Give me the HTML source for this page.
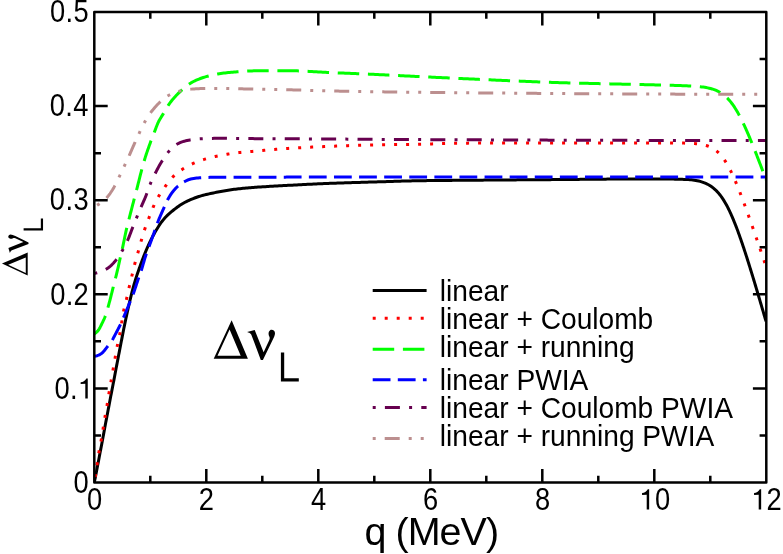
<!DOCTYPE html>
<html><head><meta charset="utf-8"><style>html,body{margin:0;padding:0;background:#fff;width:783px;height:554px;overflow:hidden}svg{display:block;will-change:transform}</style></head>
<body>
<svg width="783" height="554" viewBox="0 0 783 554">
<rect width="783" height="554" fill="#fff"/>
<defs><clipPath id="c"><rect x="94.30" y="7.00" width="672.00" height="480.50"/></clipPath></defs>
<g clip-path="url(#c)" fill="none" stroke-width="3.00" stroke-linejoin="round">
<path d="M94.30 482.50 L94.59 481.03 L94.89 479.56 L95.18 478.09 L95.47 476.61 L95.76 475.14 L96.05 473.67 L96.34 472.20 L96.62 470.73 L96.91 469.25 L97.19 467.78 L97.48 466.31 L97.76 464.84 L98.04 463.36 L98.32 461.89 L98.60 460.41 L98.88 458.94 L99.16 457.47 L99.44 455.99 L99.72 454.52 L100.00 453.05 L100.29 451.57 L100.57 450.10 L100.86 448.63 L101.14 447.16 L101.43 445.68 L101.71 444.21 L101.99 442.74 L102.27 441.26 L102.55 439.79 L102.83 438.32 L103.10 436.84 L103.37 435.37 L103.64 433.89 L103.91 432.41 L104.18 430.94 L104.46 429.46 L104.73 427.99 L105.00 426.51 L105.28 425.04 L105.55 423.57 L105.83 422.09 L106.11 420.62 L106.39 419.14 L106.67 417.67 L106.95 416.20 L107.24 414.72 L107.52 413.25 L107.80 411.78 L108.08 410.30 L108.36 408.83 L108.64 407.36 L108.92 405.88 L109.20 404.41 L109.48 402.94 L109.76 401.46 L110.04 399.99 L110.32 398.51 L110.60 397.04 L110.89 395.57 L111.17 394.10 L111.46 392.62 L111.75 391.15 L112.04 389.68 L112.32 388.21 L112.61 386.74 L112.90 385.26 L113.18 383.79 L113.46 382.32 L113.75 380.84 L114.03 379.37 L114.30 377.90 L114.58 376.42 L114.86 374.95 L115.14 373.47 L115.42 372.00 L115.70 370.53 L115.98 369.05 L116.26 367.58 L116.54 366.11 L116.82 364.63 L117.10 363.16 L117.39 361.69 L117.67 360.21 L117.95 358.74 L118.24 357.27 L118.52 355.80 L118.81 354.32 L119.09 352.85 L119.38 351.38 L119.66 349.90 L119.95 348.43 L120.23 346.96 L120.52 345.49 L120.80 344.01 L121.09 342.54 L121.38 341.07 L121.66 339.60 L121.95 338.12 L122.23 336.65 L122.52 335.18 L122.81 333.71 L123.10 332.24 L123.39 330.76 L123.68 329.29 L123.98 327.82 L124.28 326.35 L124.58 324.88 L124.88 323.41 L125.19 321.95 L125.50 320.48 L125.81 319.01 L126.13 317.54 L126.44 316.08 L126.76 314.61 L127.08 313.15 L127.41 311.68 L127.73 310.22 L128.06 308.76 L128.39 307.29 L128.72 305.83 L129.06 304.37 L129.39 302.91 L129.74 301.44 L130.08 299.98 L130.43 298.53 L130.78 297.07 L131.14 295.61 L131.49 294.15 L131.86 292.70 L132.23 291.24 L132.60 289.79 L132.98 288.34 L133.38 286.89 L133.78 285.45 L134.19 284.01 L134.61 282.57 L135.04 281.13 L135.48 279.70 L135.93 278.27 L136.39 276.84 L136.85 275.41 L137.33 273.99 L137.82 272.57 L138.31 271.15 L138.80 269.74 L139.30 268.32 L139.80 266.91 L140.30 265.49 L140.81 264.08 L141.32 262.67 L141.84 261.27 L142.37 259.86 L142.91 258.46 L143.45 257.07 L144.01 255.67 L144.57 254.28 L145.13 252.89 L145.70 251.50 L146.27 250.12 L146.85 248.73 L147.45 247.36 L148.05 245.98 L148.67 244.62 L149.30 243.26 L149.95 241.90 L150.60 240.56 L151.27 239.21 L151.96 237.88 L152.65 236.55 L153.36 235.23 L154.09 233.92 L154.82 232.61 L155.57 231.31 L156.33 230.01 L157.10 228.73 L157.88 227.45 L158.68 226.18 L159.51 224.93 L160.35 223.69 L161.22 222.47 L162.12 221.27 L163.04 220.09 L164.00 218.94 L164.99 217.82 L166.01 216.72 L167.07 215.66 L168.15 214.63 L169.26 213.62 L170.39 212.64 L171.54 211.67 L172.69 210.72 L173.86 209.78 L175.04 208.85 L176.24 207.94 L177.44 207.06 L178.67 206.19 L179.91 205.35 L181.17 204.54 L182.44 203.75 L183.74 203.00 L185.05 202.27 L186.38 201.58 L187.72 200.92 L189.08 200.29 L190.45 199.69 L191.83 199.10 L193.22 198.54 L194.62 198.00 L196.03 197.48 L197.45 196.99 L198.87 196.53 L200.30 196.09 L201.75 195.67 L203.19 195.28 L204.64 194.90 L206.10 194.54 L207.56 194.20 L209.02 193.86 L210.49 193.54 L211.95 193.22 L213.42 192.91 L214.89 192.60 L216.36 192.30 L217.83 192.01 L219.30 191.72 L220.77 191.43 L222.25 191.16 L223.72 190.90 L225.20 190.65 L226.68 190.41 L228.17 190.18 L229.65 189.96 L231.13 189.75 L232.62 189.54 L234.11 189.35 L235.59 189.16 L237.08 188.98 L238.57 188.81 L240.06 188.64 L241.56 188.48 L243.05 188.33 L244.54 188.19 L246.03 188.05 L247.53 187.92 L249.02 187.79 L250.52 187.67 L252.01 187.55 L253.51 187.44 L255.01 187.33 L256.50 187.23 L258.00 187.12 L259.50 187.02 L260.99 186.92 L262.49 186.83 L263.99 186.73 L265.48 186.64 L266.98 186.55 L268.48 186.46 L269.97 186.37 L271.47 186.28 L272.97 186.20 L274.47 186.11 L275.97 186.03 L277.46 185.94 L278.96 185.86 L280.46 185.78 L281.96 185.70 L283.45 185.62 L284.95 185.53 L286.45 185.45 L287.95 185.37 L289.45 185.29 L290.94 185.21 L292.44 185.13 L293.94 185.05 L295.44 184.97 L296.93 184.89 L298.43 184.81 L299.93 184.73 L301.43 184.65 L302.93 184.58 L304.42 184.50 L305.92 184.42 L307.42 184.35 L308.92 184.27 L310.42 184.20 L311.91 184.13 L313.41 184.06 L314.91 183.98 L316.41 183.91 L317.91 183.85 L319.41 183.78 L320.91 183.71 L322.40 183.65 L323.90 183.59 L325.40 183.53 L326.90 183.47 L328.40 183.41 L329.90 183.35 L331.40 183.29 L332.90 183.24 L334.39 183.18 L335.89 183.13 L337.39 183.08 L338.89 183.03 L340.39 182.98 L341.89 182.93 L343.39 182.88 L344.89 182.83 L346.39 182.78 L347.89 182.74 L349.39 182.69 L350.89 182.64 L352.39 182.60 L353.88 182.55 L355.38 182.51 L356.88 182.46 L358.38 182.42 L359.88 182.38 L361.38 182.33 L362.88 182.29 L364.38 182.25 L365.88 182.20 L367.38 182.16 L368.88 182.12 L370.38 182.08 L371.88 182.03 L373.38 181.99 L374.88 181.95 L376.38 181.90 L377.87 181.86 L379.37 181.82 L380.87 181.77 L382.37 181.73 L383.87 181.68 L385.37 181.64 L386.87 181.59 L388.37 181.54 L389.87 181.50 L391.37 181.45 L392.87 181.40 L394.37 181.35 L395.87 181.31 L397.37 181.26 L398.86 181.21 L400.36 181.17 L401.86 181.12 L403.36 181.08 L404.86 181.04 L406.36 181.00 L407.86 180.96 L409.36 180.92 L410.86 180.88 L412.36 180.85 L413.86 180.81 L415.36 180.78 L416.86 180.76 L418.36 180.73 L419.86 180.71 L421.36 180.68 L422.86 180.66 L424.36 180.64 L425.86 180.63 L427.36 180.61 L428.86 180.59 L430.36 180.58 L431.86 180.56 L433.36 180.55 L434.86 180.53 L436.36 180.52 L437.86 180.50 L439.36 180.49 L440.86 180.48 L442.36 180.47 L443.86 180.45 L445.36 180.44 L446.86 180.43 L448.36 180.41 L449.86 180.40 L451.36 180.39 L452.86 180.37 L454.36 180.36 L455.86 180.35 L457.36 180.34 L458.86 180.32 L460.36 180.31 L461.86 180.30 L463.36 180.29 L464.86 180.27 L466.36 180.26 L467.86 180.25 L469.36 180.24 L470.86 180.22 L472.36 180.21 L473.86 180.20 L475.36 180.19 L476.86 180.18 L478.36 180.16 L479.86 180.15 L481.36 180.14 L482.86 180.13 L484.36 180.12 L485.86 180.11 L487.36 180.09 L488.86 180.08 L490.36 180.07 L491.86 180.06 L493.36 180.05 L494.86 180.04 L496.36 180.03 L497.86 180.02 L499.36 180.00 L500.86 179.99 L502.36 179.98 L503.85 179.97 L505.35 179.96 L506.85 179.95 L508.35 179.94 L509.85 179.93 L511.35 179.92 L512.85 179.90 L514.35 179.89 L515.85 179.88 L517.35 179.87 L518.85 179.86 L520.35 179.85 L521.85 179.84 L523.35 179.83 L524.85 179.82 L526.35 179.81 L527.85 179.80 L529.35 179.79 L530.85 179.77 L532.35 179.76 L533.85 179.75 L535.35 179.74 L536.85 179.73 L538.35 179.72 L539.85 179.71 L541.35 179.70 L542.85 179.69 L544.35 179.68 L545.85 179.67 L547.35 179.65 L548.85 179.64 L550.35 179.63 L551.85 179.62 L553.35 179.61 L554.85 179.60 L556.35 179.59 L557.85 179.58 L559.35 179.56 L560.85 179.55 L562.35 179.54 L563.85 179.53 L565.35 179.51 L566.85 179.50 L568.35 179.49 L569.85 179.47 L571.35 179.46 L572.85 179.44 L574.35 179.43 L575.85 179.42 L577.35 179.40 L578.85 179.39 L580.35 179.37 L581.85 179.36 L583.35 179.34 L584.85 179.33 L586.35 179.31 L587.85 179.30 L589.35 179.28 L590.85 179.27 L592.35 179.26 L593.85 179.24 L595.35 179.23 L596.85 179.21 L598.35 179.20 L599.85 179.18 L601.35 179.17 L602.85 179.16 L604.35 179.14 L605.85 179.13 L607.35 179.12 L608.85 179.10 L610.35 179.09 L611.85 179.08 L613.35 179.07 L614.85 179.05 L616.35 179.04 L617.85 179.03 L619.35 179.02 L620.85 179.01 L622.35 179.00 L623.85 178.99 L625.35 178.98 L626.85 178.97 L628.35 178.96 L629.85 178.96 L631.35 178.95 L632.85 178.94 L634.35 178.94 L635.85 178.93 L637.35 178.92 L638.85 178.92 L640.35 178.91 L641.85 178.91 L643.35 178.91 L644.85 178.91 L646.35 178.90 L647.85 178.90 L649.35 178.90 L650.85 178.90 L652.35 178.90 L653.85 178.91 L655.35 178.91 L656.85 178.92 L658.35 178.93 L659.85 178.94 L661.35 178.95 L662.85 178.96 L664.35 178.98 L665.85 179.00 L667.35 179.02 L668.85 179.04 L670.35 179.06 L671.85 179.09 L673.35 179.12 L674.85 179.15 L676.35 179.18 L677.85 179.22 L679.35 179.26 L680.85 179.30 L682.35 179.34 L683.85 179.39 L685.34 179.44 L686.84 179.50 L688.34 179.58 L689.83 179.68 L691.33 179.81 L692.81 179.99 L694.30 180.20 L695.78 180.44 L697.25 180.73 L698.71 181.05 L700.16 181.42 L701.60 181.83 L703.02 182.30 L704.42 182.82 L705.80 183.40 L707.15 184.03 L708.47 184.72 L709.76 185.48 L711.02 186.29 L712.24 187.15 L713.42 188.07 L714.55 189.04 L715.65 190.05 L716.71 191.11 L717.73 192.20 L718.72 193.33 L719.67 194.49 L720.58 195.68 L721.47 196.88 L722.32 198.12 L723.15 199.37 L723.95 200.63 L724.72 201.92 L725.48 203.21 L726.21 204.52 L726.93 205.84 L727.62 207.16 L728.30 208.50 L728.97 209.85 L729.62 211.20 L730.25 212.55 L730.88 213.92 L731.49 215.29 L732.09 216.66 L732.68 218.04 L733.26 219.42 L733.84 220.81 L734.40 222.20 L734.96 223.59 L735.51 224.99 L736.05 226.38 L736.59 227.79 L737.12 229.19 L737.64 230.59 L738.16 232.00 L738.67 233.41 L739.18 234.82 L739.69 236.23 L740.19 237.65 L740.68 239.06 L741.17 240.48 L741.66 241.90 L742.15 243.32 L742.63 244.74 L743.11 246.16 L743.58 247.58 L744.05 249.01 L744.52 250.43 L744.99 251.86 L745.45 253.28 L745.92 254.71 L746.38 256.14 L746.83 257.57 L747.29 259.00 L747.74 260.43 L748.20 261.86 L748.65 263.29 L749.09 264.72 L749.54 266.15 L749.99 267.58 L750.43 269.02 L750.87 270.45 L751.32 271.88 L751.76 273.32 L752.20 274.75 L752.63 276.19 L753.07 277.62 L753.51 279.06 L753.94 280.49 L754.38 281.93 L754.81 283.36 L755.24 284.80 L755.67 286.24 L756.10 287.67 L756.53 289.11 L756.96 290.55 L757.39 291.98 L757.82 293.42 L758.24 294.86 L758.67 296.30 L759.10 297.74 L759.52 299.18 L759.95 300.61 L760.37 302.05 L760.79 303.49 L761.22 304.93 L761.64 306.37 L762.06 307.81 L762.48 309.25 L762.91 310.69 L763.33 312.13 L763.75 313.56 L764.16 314.99 L764.57 316.40 L764.97 317.76 L765.34 319.03 L765.68 320.20 L766.00 321.30" stroke="#000000"/>
<path d="M94.30 482.50 L94.56 481.02 L94.81 479.54 L95.06 478.06 L95.30 476.58 L95.54 475.10 L95.78 473.62 L96.00 472.14 L96.23 470.66 L96.44 469.17 L96.66 467.69 L96.86 466.20 L97.06 464.71 L97.26 463.23 L97.45 461.74 L97.66 460.25 L97.87 458.77 L98.09 457.29 L98.32 455.80 L98.56 454.32 L98.82 452.85 L99.08 451.37 L99.35 449.89 L99.62 448.42 L99.90 446.94 L100.17 445.47 L100.45 444.00 L100.73 442.52 L101.00 441.05 L101.28 439.57 L101.55 438.10 L101.82 436.62 L102.08 435.15 L102.33 433.67 L102.57 432.19 L102.81 430.71 L103.03 429.22 L103.25 427.74 L103.47 426.25 L103.68 424.77 L103.91 423.29 L104.14 421.80 L104.38 420.32 L104.63 418.85 L104.90 417.37 L105.18 415.90 L105.46 414.42 L105.75 412.95 L106.02 411.48 L106.29 410.00 L106.55 408.52 L106.79 407.04 L107.03 405.56 L107.25 404.08 L107.48 402.60 L107.70 401.11 L107.92 399.63 L108.15 398.15 L108.39 396.67 L108.63 395.19 L108.88 393.71 L109.13 392.23 L109.38 390.75 L109.64 389.27 L109.90 387.79 L110.15 386.32 L110.41 384.84 L110.66 383.36 L110.91 381.88 L111.16 380.40 L111.42 378.92 L111.67 377.44 L111.92 375.97 L112.18 374.49 L112.44 373.01 L112.71 371.54 L112.98 370.06 L113.26 368.59 L113.53 367.11 L113.81 365.64 L114.08 364.16 L114.34 362.68 L114.60 361.21 L114.84 359.73 L115.08 358.25 L115.32 356.77 L115.56 355.28 L115.79 353.80 L116.04 352.32 L116.29 350.85 L116.56 349.37 L116.84 347.90 L117.14 346.43 L117.45 344.96 L117.77 343.49 L118.09 342.03 L118.41 340.56 L118.73 339.10 L119.03 337.63 L119.33 336.16 L119.63 334.69 L119.91 333.22 L120.19 331.74 L120.46 330.27 L120.72 328.79 L120.98 327.31 L121.22 325.83 L121.45 324.35 L121.66 322.87 L121.87 321.38 L122.08 319.89 L122.28 318.41 L122.50 316.92 L122.73 315.44 L122.98 313.97 L123.27 312.49 L123.58 311.03 L123.92 309.57 L124.29 308.11 L124.66 306.66 L125.04 305.21 L125.42 303.76 L125.79 302.31 L126.14 300.85 L126.47 299.39 L126.80 297.92 L127.11 296.46 L127.43 294.99 L127.74 293.52 L128.06 292.06 L128.39 290.59 L128.72 289.13 L129.06 287.67 L129.41 286.21 L129.77 284.76 L130.13 283.30 L130.48 281.84 L130.84 280.38 L131.19 278.93 L131.53 277.47 L131.87 276.00 L132.20 274.54 L132.53 273.08 L132.87 271.62 L133.20 270.15 L133.54 268.69 L133.90 267.24 L134.26 265.78 L134.64 264.33 L135.04 262.88 L135.44 261.44 L135.85 260.00 L136.26 258.55 L136.67 257.11 L137.09 255.67 L137.49 254.23 L137.90 252.78 L138.30 251.34 L138.70 249.89 L139.09 248.44 L139.49 247.00 L139.89 245.55 L140.29 244.11 L140.70 242.66 L141.10 241.22 L141.51 239.77 L141.92 238.33 L142.33 236.89 L142.75 235.45 L143.18 234.01 L143.63 232.58 L144.09 231.16 L144.57 229.73 L145.07 228.32 L145.58 226.91 L146.10 225.50 L146.63 224.10 L147.16 222.70 L147.70 221.30 L148.22 219.89 L148.75 218.49 L149.27 217.08 L149.79 215.67 L150.31 214.27 L150.84 212.86 L151.38 211.46 L151.94 210.07 L152.51 208.69 L153.10 207.31 L153.71 205.94 L154.33 204.57 L154.98 203.22 L155.64 201.87 L156.32 200.54 L157.02 199.22 L157.75 197.91 L158.50 196.61 L159.28 195.33 L160.08 194.06 L160.90 192.80 L161.73 191.55 L162.58 190.32 L163.43 189.08 L164.29 187.85 L165.15 186.63 L166.01 185.40 L166.88 184.18 L167.77 182.97 L168.67 181.77 L169.59 180.59 L170.55 179.44 L171.54 178.32 L172.57 177.23 L173.64 176.18 L174.73 175.16 L175.86 174.17 L177.00 173.21 L178.18 172.27 L179.37 171.37 L180.59 170.50 L181.83 169.65 L183.08 168.83 L184.35 168.04 L185.64 167.27 L186.95 166.54 L188.26 165.82 L189.60 165.14 L190.94 164.48 L192.30 163.84 L193.67 163.23 L195.04 162.64 L196.43 162.07 L197.83 161.52 L199.23 161.00 L200.65 160.50 L202.07 160.02 L203.50 159.57 L204.93 159.13 L206.37 158.72 L207.82 158.33 L209.27 157.95 L210.73 157.58 L212.18 157.23 L213.65 156.89 L215.11 156.57 L216.58 156.25 L218.04 155.95 L219.51 155.65 L220.99 155.37 L222.46 155.09 L223.94 154.82 L225.41 154.56 L226.89 154.31 L228.37 154.06 L229.85 153.82 L231.33 153.59 L232.82 153.36 L234.30 153.15 L235.79 152.95 L237.28 152.76 L238.77 152.59 L240.26 152.44 L241.75 152.29 L243.24 152.16 L244.74 152.03 L246.23 151.91 L247.73 151.78 L249.22 151.66 L250.72 151.53 L252.21 151.40 L253.71 151.27 L255.20 151.14 L256.70 151.01 L258.19 150.87 L259.68 150.74 L261.18 150.60 L262.67 150.46 L264.16 150.33 L265.66 150.19 L267.15 150.06 L268.65 149.92 L270.14 149.79 L271.63 149.66 L273.13 149.53 L274.62 149.41 L276.12 149.28 L277.61 149.16 L279.11 149.04 L280.60 148.93 L282.10 148.82 L283.60 148.71 L285.09 148.61 L286.59 148.51 L288.09 148.41 L289.58 148.32 L291.08 148.22 L292.58 148.13 L294.08 148.05 L295.57 147.96 L297.07 147.87 L298.57 147.79 L300.07 147.71 L301.56 147.63 L303.06 147.55 L304.56 147.47 L306.06 147.39 L307.56 147.32 L309.05 147.25 L310.55 147.17 L312.05 147.10 L313.55 147.03 L315.05 146.96 L316.55 146.90 L318.04 146.83 L319.54 146.76 L321.04 146.70 L322.54 146.63 L324.04 146.57 L325.54 146.51 L327.04 146.45 L328.53 146.38 L330.03 146.32 L331.53 146.26 L333.03 146.20 L334.53 146.14 L336.03 146.09 L337.53 146.03 L339.03 145.97 L340.53 145.92 L342.02 145.86 L343.52 145.81 L345.02 145.76 L346.52 145.71 L348.02 145.66 L349.52 145.61 L351.02 145.56 L352.52 145.51 L354.02 145.47 L355.52 145.42 L357.02 145.38 L358.52 145.34 L360.02 145.30 L361.52 145.26 L363.01 145.23 L364.51 145.19 L366.01 145.15 L367.51 145.12 L369.01 145.09 L370.51 145.05 L372.01 145.02 L373.51 144.99 L375.01 144.96 L376.51 144.93 L378.01 144.90 L379.51 144.87 L381.01 144.84 L382.51 144.81 L384.01 144.78 L385.51 144.76 L387.01 144.73 L388.51 144.70 L390.01 144.68 L391.51 144.66 L393.01 144.63 L394.51 144.61 L396.01 144.59 L397.51 144.57 L399.01 144.55 L400.51 144.53 L402.01 144.51 L403.51 144.49 L405.01 144.48 L406.51 144.46 L408.01 144.44 L409.51 144.43 L411.01 144.41 L412.51 144.39 L414.01 144.37 L415.51 144.35 L417.01 144.33 L418.51 144.30 L420.01 144.27 L421.51 144.24 L423.01 144.20 L424.50 144.16 L426.00 144.11 L427.50 144.06 L429.00 144.01 L430.50 143.96 L432.00 143.90 L433.50 143.84 L435.00 143.78 L436.50 143.73 L438.00 143.67 L439.49 143.61 L440.99 143.55 L442.49 143.50 L443.99 143.45 L445.49 143.40 L446.99 143.36 L448.49 143.32 L449.99 143.29 L451.49 143.26 L452.99 143.23 L454.49 143.21 L455.99 143.20 L457.49 143.19 L458.99 143.18 L460.49 143.17 L461.99 143.16 L463.49 143.15 L464.99 143.14 L466.49 143.13 L467.99 143.13 L469.49 143.12 L470.99 143.11 L472.49 143.10 L473.99 143.09 L475.49 143.09 L476.99 143.08 L478.49 143.07 L479.99 143.07 L481.49 143.06 L482.99 143.05 L484.49 143.05 L485.99 143.04 L487.49 143.03 L488.99 143.03 L490.49 143.02 L491.99 143.02 L493.49 143.01 L494.99 143.00 L496.49 143.00 L497.99 142.99 L499.49 142.99 L500.99 142.98 L502.49 142.98 L503.99 142.97 L505.49 142.97 L506.99 142.97 L508.49 142.96 L509.99 142.96 L511.49 142.95 L512.99 142.95 L514.49 142.95 L515.99 142.94 L517.49 142.94 L518.99 142.94 L520.49 142.93 L521.99 142.93 L523.49 142.93 L524.99 142.93 L526.49 142.92 L527.99 142.92 L529.49 142.92 L530.99 142.92 L532.49 142.91 L533.99 142.91 L535.49 142.91 L536.99 142.91 L538.49 142.91 L539.99 142.91 L541.49 142.91 L542.99 142.90 L544.49 142.90 L545.99 142.90 L547.49 142.90 L548.99 142.90 L550.49 142.90 L551.99 142.90 L553.49 142.90 L554.99 142.90 L556.49 142.90 L557.99 142.90 L559.49 142.90 L560.99 142.90 L562.49 142.90 L563.99 142.90 L565.49 142.90 L566.99 142.90 L568.49 142.90 L569.99 142.90 L571.49 142.90 L572.99 142.90 L574.49 142.90 L575.99 142.90 L577.49 142.90 L578.99 142.90 L580.49 142.90 L581.99 142.90 L583.49 142.90 L584.99 142.90 L586.49 142.90 L587.99 142.90 L589.49 142.90 L590.99 142.90 L592.49 142.90 L593.99 142.90 L595.49 142.90 L596.99 142.90 L598.49 142.90 L599.99 142.90 L601.49 142.90 L602.99 142.90 L604.49 142.90 L605.99 142.90 L607.49 142.90 L608.99 142.90 L610.49 142.90 L611.99 142.90 L613.49 142.90 L614.99 142.90 L616.49 142.90 L617.99 142.90 L619.49 142.90 L620.99 142.90 L622.49 142.90 L623.99 142.90 L625.49 142.90 L626.99 142.90 L628.49 142.90 L629.99 142.90 L631.49 142.90 L632.99 142.90 L634.49 142.90 L635.99 142.90 L637.49 142.90 L638.99 142.90 L640.49 142.90 L641.99 142.90 L643.49 142.90 L644.99 142.90 L646.49 142.90 L647.99 142.90 L649.49 142.90 L650.99 142.90 L652.49 142.90 L653.99 142.90 L655.49 142.91 L656.99 142.91 L658.49 142.91 L659.99 142.92 L661.49 142.92 L662.99 142.93 L664.49 142.94 L665.99 142.94 L667.49 142.95 L668.99 142.96 L670.49 142.97 L671.99 142.98 L673.49 142.99 L674.99 143.00 L676.49 143.02 L677.99 143.03 L679.49 143.05 L680.99 143.06 L682.49 143.08 L683.99 143.10 L685.49 143.14 L686.99 143.18 L688.48 143.23 L689.98 143.29 L691.48 143.36 L692.98 143.45 L694.47 143.56 L695.97 143.69 L697.46 143.84 L698.95 144.03 L700.43 144.24 L701.90 144.49 L703.37 144.79 L704.83 145.14 L706.27 145.54 L707.69 146.00 L709.08 146.53 L710.45 147.12 L711.79 147.79 L713.09 148.52 L714.35 149.32 L715.56 150.19 L716.73 151.11 L717.85 152.10 L718.93 153.13 L719.97 154.21 L720.96 155.33 L721.91 156.48 L722.83 157.66 L723.71 158.88 L724.56 160.11 L725.38 161.36 L726.18 162.63 L726.95 163.92 L727.70 165.22 L728.42 166.53 L729.13 167.85 L729.82 169.18 L730.50 170.52 L731.16 171.87 L731.81 173.22 L732.45 174.57 L733.08 175.94 L733.69 177.30 L734.30 178.68 L734.90 180.05 L735.49 181.43 L736.07 182.81 L736.65 184.20 L737.22 185.58 L737.78 186.97 L738.34 188.37 L738.90 189.76 L739.45 191.15 L739.99 192.55 L740.53 193.95 L741.07 195.35 L741.60 196.75 L742.13 198.16 L742.66 199.56 L743.19 200.97 L743.71 202.37 L744.23 203.78 L744.74 205.19 L745.26 206.60 L745.77 208.01 L746.28 209.42 L746.79 210.83 L747.30 212.24 L747.81 213.65 L748.31 215.06 L748.81 216.48 L749.32 217.89 L749.82 219.30 L750.32 220.72 L750.81 222.13 L751.31 223.55 L751.81 224.96 L752.30 226.38 L752.80 227.80 L753.29 229.21 L753.78 230.63 L754.28 232.05 L754.77 233.46 L755.26 234.88 L755.75 236.30 L756.24 237.72 L756.73 239.13 L757.22 240.55 L757.71 241.97 L758.20 243.39 L758.68 244.81 L759.17 246.23 L759.66 247.64 L760.14 249.06 L760.63 250.48 L761.12 251.90 L761.60 253.32 L762.09 254.74 L762.57 256.15 L763.05 257.56 L763.52 258.93 L763.96 260.22 L764.35 261.38 L764.70 262.38 L765.00 263.27" stroke="#ff0000" stroke-dasharray="3 9" stroke-dashoffset="-5.50"/>
<path d="M94.30 333.90 L95.49 333.06 L96.62 332.14 L97.63 331.11 L98.53 329.97 L99.31 328.73 L100.03 327.43 L100.71 326.09 L101.37 324.75 L102.02 323.40 L102.68 322.05 L103.33 320.70 L103.96 319.34 L104.55 317.97 L105.11 316.58 L105.63 315.18 L106.10 313.75 L106.54 312.32 L106.97 310.88 L107.38 309.44 L107.79 308.00 L108.19 306.56 L108.60 305.11 L109.00 303.67 L109.39 302.22 L109.78 300.77 L110.16 299.32 L110.54 297.87 L110.91 296.41 L111.27 294.96 L111.64 293.50 L112.00 292.05 L112.36 290.59 L112.72 289.14 L113.09 287.68 L113.45 286.23 L113.82 284.77 L114.19 283.32 L114.56 281.87 L114.93 280.41 L115.30 278.96 L115.67 277.50 L116.03 276.05 L116.40 274.59 L116.76 273.14 L117.11 271.68 L117.46 270.22 L117.81 268.76 L118.14 267.30 L118.47 265.84 L118.80 264.37 L119.12 262.91 L119.44 261.44 L119.76 259.98 L120.09 258.51 L120.42 257.05 L120.75 255.59 L121.09 254.13 L121.43 252.66 L121.76 251.20 L122.10 249.74 L122.42 248.28 L122.75 246.81 L123.06 245.34 L123.37 243.88 L123.68 242.41 L123.98 240.94 L124.28 239.47 L124.58 238.00 L124.88 236.53 L125.19 235.06 L125.50 233.60 L125.82 232.13 L126.14 230.66 L126.48 229.20 L126.82 227.74 L127.17 226.28 L127.53 224.83 L127.90 223.37 L128.27 221.92 L128.64 220.47 L129.01 219.01 L129.39 217.56 L129.76 216.11 L130.14 214.66 L130.51 213.20 L130.89 211.75 L131.26 210.30 L131.64 208.85 L132.02 207.40 L132.39 205.94 L132.77 204.49 L133.15 203.04 L133.53 201.59 L133.91 200.14 L134.29 198.69 L134.67 197.24 L135.05 195.79 L135.43 194.34 L135.81 192.88 L136.19 191.43 L136.57 189.98 L136.94 188.53 L137.31 187.08 L137.68 185.62 L138.05 184.17 L138.41 182.71 L138.78 181.26 L139.14 179.80 L139.51 178.35 L139.88 176.89 L140.24 175.44 L140.62 173.99 L140.99 172.53 L141.37 171.08 L141.75 169.63 L142.14 168.18 L142.53 166.73 L142.93 165.29 L143.33 163.84 L143.74 162.40 L144.17 160.96 L144.60 159.53 L145.04 158.09 L145.49 156.66 L145.95 155.24 L146.42 153.81 L146.90 152.39 L147.38 150.97 L147.87 149.55 L148.37 148.13 L148.87 146.72 L149.37 145.31 L149.88 143.90 L150.40 142.49 L150.92 141.08 L151.45 139.68 L151.99 138.28 L152.53 136.88 L153.08 135.49 L153.63 134.09 L154.17 132.69 L154.71 131.29 L155.24 129.89 L155.77 128.48 L156.29 127.08 L156.83 125.68 L157.39 124.29 L157.98 122.92 L158.62 121.57 L159.32 120.24 L160.06 118.94 L160.84 117.66 L161.63 116.39 L162.43 115.13 L163.22 113.85 L163.99 112.56 L164.73 111.26 L165.47 109.96 L166.22 108.66 L166.98 107.37 L167.77 106.10 L168.60 104.85 L169.46 103.62 L170.35 102.42 L171.26 101.23 L172.20 100.06 L173.16 98.91 L174.15 97.78 L175.15 96.66 L176.17 95.56 L177.20 94.48 L178.26 93.41 L179.33 92.36 L180.41 91.33 L181.51 90.30 L182.61 89.29 L183.74 88.30 L184.87 87.32 L186.03 86.37 L187.21 85.44 L188.41 84.56 L189.65 83.72 L190.92 82.92 L192.21 82.18 L193.54 81.48 L194.88 80.82 L196.24 80.20 L197.62 79.61 L199.01 79.04 L200.41 78.51 L201.82 78.01 L203.24 77.53 L204.67 77.08 L206.11 76.65 L207.55 76.25 L209.00 75.86 L210.45 75.49 L211.91 75.14 L213.37 74.81 L214.84 74.50 L216.31 74.21 L217.79 73.94 L219.27 73.70 L220.75 73.48 L222.24 73.27 L223.72 73.08 L225.21 72.91 L226.70 72.74 L228.20 72.59 L229.69 72.44 L231.18 72.30 L232.68 72.17 L234.17 72.04 L235.66 71.92 L237.16 71.79 L238.65 71.67 L240.15 71.54 L241.64 71.42 L243.14 71.30 L244.64 71.19 L246.13 71.10 L247.63 71.02 L249.13 70.96 L250.63 70.92 L252.13 70.89 L253.63 70.87 L255.13 70.85 L256.63 70.84 L258.13 70.82 L259.63 70.81 L261.13 70.80 L262.63 70.79 L264.13 70.78 L265.63 70.77 L267.13 70.76 L268.63 70.75 L270.13 70.74 L271.63 70.74 L273.13 70.73 L274.63 70.73 L276.13 70.72 L277.63 70.72 L279.13 70.71 L280.63 70.71 L282.13 70.71 L283.63 70.70 L285.13 70.70 L286.63 70.70 L288.12 70.71 L289.62 70.71 L291.12 70.72 L292.62 70.74 L294.12 70.77 L295.62 70.80 L297.12 70.85 L298.62 70.90 L300.12 70.95 L301.62 71.02 L303.12 71.09 L304.62 71.16 L306.11 71.24 L307.61 71.32 L309.11 71.41 L310.61 71.49 L312.10 71.58 L313.60 71.67 L315.10 71.76 L316.60 71.85 L318.09 71.94 L319.59 72.03 L321.09 72.12 L322.59 72.20 L324.08 72.28 L325.58 72.36 L327.08 72.43 L328.58 72.50 L330.08 72.56 L331.58 72.63 L333.07 72.69 L334.57 72.75 L336.07 72.82 L337.57 72.88 L339.07 72.94 L340.57 73.00 L342.07 73.06 L343.57 73.11 L345.06 73.17 L346.56 73.23 L348.06 73.29 L349.56 73.35 L351.06 73.41 L352.56 73.47 L354.06 73.53 L355.56 73.59 L357.06 73.65 L358.55 73.71 L360.05 73.77 L361.55 73.83 L363.05 73.90 L364.55 73.96 L366.05 74.03 L367.55 74.09 L369.04 74.16 L370.54 74.23 L372.04 74.29 L373.54 74.36 L375.04 74.43 L376.54 74.50 L378.03 74.58 L379.53 74.65 L381.03 74.72 L382.53 74.79 L384.03 74.87 L385.53 74.94 L387.02 75.02 L388.52 75.09 L390.02 75.16 L391.52 75.24 L393.02 75.31 L394.51 75.39 L396.01 75.46 L397.51 75.54 L399.01 75.61 L400.51 75.69 L402.01 75.76 L403.50 75.83 L405.00 75.90 L406.50 75.98 L408.00 76.05 L409.50 76.12 L411.00 76.19 L412.49 76.26 L413.99 76.33 L415.49 76.40 L416.99 76.47 L418.49 76.54 L419.99 76.61 L421.48 76.68 L422.98 76.75 L424.48 76.82 L425.98 76.89 L427.48 76.96 L428.98 77.03 L430.47 77.10 L431.97 77.17 L433.47 77.24 L434.97 77.31 L436.47 77.38 L437.97 77.44 L439.46 77.51 L440.96 77.58 L442.46 77.65 L443.96 77.72 L445.46 77.79 L446.96 77.86 L448.45 77.93 L449.95 78.00 L451.45 78.07 L452.95 78.14 L454.45 78.21 L455.95 78.28 L457.45 78.35 L458.94 78.42 L460.44 78.49 L461.94 78.56 L463.44 78.63 L464.94 78.70 L466.44 78.77 L467.93 78.84 L469.43 78.91 L470.93 78.98 L472.43 79.05 L473.93 79.12 L475.43 79.19 L476.92 79.26 L478.42 79.32 L479.92 79.39 L481.42 79.46 L482.92 79.53 L484.42 79.60 L485.91 79.67 L487.41 79.74 L488.91 79.80 L490.41 79.87 L491.91 79.94 L493.41 80.01 L494.91 80.07 L496.40 80.14 L497.90 80.20 L499.40 80.27 L500.90 80.33 L502.40 80.40 L503.90 80.46 L505.40 80.53 L506.89 80.59 L508.39 80.66 L509.89 80.72 L511.39 80.79 L512.89 80.85 L514.39 80.92 L515.89 80.99 L517.38 81.05 L518.88 81.12 L520.38 81.18 L521.88 81.24 L523.38 81.31 L524.88 81.37 L526.38 81.44 L527.87 81.50 L529.37 81.56 L530.87 81.62 L532.37 81.69 L533.87 81.75 L535.37 81.81 L536.87 81.87 L538.37 81.92 L539.86 81.98 L541.36 82.04 L542.86 82.10 L544.36 82.15 L545.86 82.20 L547.36 82.26 L548.86 82.31 L550.36 82.36 L551.86 82.41 L553.36 82.46 L554.86 82.50 L556.36 82.55 L557.85 82.59 L559.35 82.64 L560.85 82.68 L562.35 82.72 L563.85 82.76 L565.35 82.81 L566.85 82.85 L568.35 82.89 L569.85 82.92 L571.35 82.96 L572.85 83.00 L574.35 83.04 L575.85 83.08 L577.35 83.11 L578.85 83.15 L580.35 83.19 L581.85 83.22 L583.35 83.26 L584.85 83.29 L586.34 83.33 L587.84 83.36 L589.34 83.40 L590.84 83.43 L592.34 83.46 L593.84 83.50 L595.34 83.53 L596.84 83.57 L598.34 83.60 L599.84 83.64 L601.34 83.67 L602.84 83.70 L604.34 83.74 L605.84 83.77 L607.34 83.81 L608.84 83.84 L610.34 83.88 L611.84 83.91 L613.34 83.94 L614.84 83.98 L616.34 84.01 L617.84 84.04 L619.34 84.08 L620.84 84.11 L622.34 84.14 L623.84 84.17 L625.33 84.21 L626.83 84.24 L628.33 84.27 L629.83 84.30 L631.33 84.33 L632.83 84.37 L634.33 84.40 L635.83 84.43 L637.33 84.46 L638.83 84.50 L640.33 84.53 L641.83 84.56 L643.33 84.60 L644.83 84.63 L646.33 84.67 L647.83 84.70 L649.33 84.74 L650.83 84.77 L652.33 84.81 L653.83 84.84 L655.33 84.88 L656.83 84.92 L658.33 84.96 L659.83 84.99 L661.33 85.03 L662.82 85.07 L664.32 85.11 L665.82 85.15 L667.32 85.19 L668.82 85.23 L670.32 85.27 L671.82 85.31 L673.32 85.35 L674.82 85.40 L676.32 85.44 L677.82 85.49 L679.32 85.54 L680.82 85.59 L682.32 85.64 L683.82 85.70 L685.31 85.75 L686.81 85.82 L688.31 85.89 L689.81 85.96 L691.31 86.04 L692.80 86.13 L694.30 86.23 L695.80 86.34 L697.29 86.46 L698.79 86.59 L700.28 86.74 L701.77 86.91 L703.25 87.11 L704.74 87.32 L706.21 87.57 L707.69 87.85 L709.15 88.17 L710.60 88.53 L712.04 88.93 L713.47 89.39 L714.88 89.89 L716.26 90.46 L717.62 91.08 L718.95 91.76 L720.25 92.50 L721.51 93.29 L722.74 94.14 L723.93 95.05 L725.08 96.01 L726.19 97.01 L727.26 98.05 L728.30 99.13 L729.30 100.24 L730.26 101.39 L731.20 102.56 L732.10 103.75 L732.98 104.97 L733.83 106.20 L734.66 107.45 L735.46 108.72 L736.25 109.99 L737.01 111.28 L737.76 112.58 L738.49 113.89 L739.21 115.21 L739.91 116.53 L740.60 117.87 L741.28 119.20 L741.95 120.55 L742.61 121.89 L743.25 123.25 L743.89 124.60 L744.53 125.96 L745.15 127.33 L745.77 128.69 L746.38 130.06 L746.98 131.44 L747.58 132.81 L748.18 134.19 L748.77 135.57 L749.35 136.95 L749.93 138.33 L750.51 139.72 L751.08 141.10 L751.65 142.49 L752.22 143.88 L752.78 145.27 L753.34 146.66 L753.90 148.05 L754.45 149.45 L755.01 150.84 L755.56 152.24 L756.10 153.63 L756.65 155.03 L757.19 156.43 L757.74 157.83 L758.28 159.23 L758.82 160.63 L759.35 162.03 L759.89 163.43 L760.43 164.83 L760.96 166.23 L761.49 167.63 L762.02 169.03 L762.55 170.44 L763.08 171.84 L763.61 173.24 L764.13 174.62 L764.63 175.96 L765.11 177.24 L765.57 178.45 L766.00 179.61" stroke="#00ff00" stroke-dasharray="21.5 8.7" stroke-dashoffset="0.00"/>
<path d="M94.30 356.40 L95.75 356.08 L97.18 355.70 L98.56 355.21 L99.87 354.57 L101.09 353.79 L102.22 352.86 L103.26 351.82 L104.23 350.70 L105.17 349.54 L106.09 348.35 L107.01 347.17 L107.93 345.99 L108.86 344.82 L109.78 343.63 L110.67 342.43 L111.52 341.20 L112.33 339.94 L113.09 338.65 L113.81 337.34 L114.51 336.01 L115.19 334.68 L115.87 333.34 L116.56 332.01 L117.26 330.69 L117.96 329.36 L118.66 328.03 L119.34 326.70 L120.01 325.35 L120.65 324.00 L121.27 322.64 L121.88 321.27 L122.48 319.89 L123.07 318.51 L123.66 317.13 L124.25 315.75 L124.83 314.37 L125.42 312.99 L126.00 311.61 L126.58 310.22 L127.16 308.84 L127.73 307.46 L128.31 306.07 L128.88 304.68 L129.46 303.30 L130.03 301.91 L130.60 300.52 L131.17 299.14 L131.73 297.75 L132.28 296.35 L132.83 294.95 L133.36 293.55 L133.87 292.14 L134.37 290.73 L134.85 289.31 L135.33 287.88 L135.79 286.46 L136.26 285.03 L136.72 283.61 L137.19 282.18 L137.67 280.76 L138.15 279.34 L138.64 277.92 L139.14 276.51 L139.65 275.10 L140.15 273.68 L140.64 272.27 L141.12 270.85 L141.59 269.42 L142.04 267.99 L142.47 266.56 L142.90 265.12 L143.31 263.68 L143.73 262.23 L144.14 260.79 L144.56 259.35 L145.00 257.92 L145.45 256.49 L145.92 255.06 L146.41 253.65 L146.91 252.23 L147.42 250.82 L147.95 249.42 L148.48 248.01 L149.01 246.61 L149.54 245.21 L150.07 243.81 L150.59 242.40 L151.11 240.99 L151.61 239.58 L152.12 238.17 L152.62 236.75 L153.12 235.34 L153.62 233.92 L154.12 232.51 L154.61 231.09 L155.11 229.68 L155.60 228.26 L156.10 226.85 L156.59 225.43 L157.10 224.02 L157.62 222.61 L158.16 221.21 L158.71 219.82 L159.27 218.43 L159.86 217.05 L160.45 215.67 L161.05 214.30 L161.66 212.92 L162.27 211.56 L162.88 210.19 L163.50 208.82 L164.11 207.45 L164.72 206.08 L165.33 204.71 L165.95 203.34 L166.59 201.98 L167.24 200.64 L167.92 199.30 L168.64 197.99 L169.39 196.69 L170.19 195.42 L171.02 194.18 L171.88 192.95 L172.78 191.75 L173.70 190.58 L174.67 189.43 L175.67 188.32 L176.72 187.26 L177.81 186.25 L178.96 185.29 L180.15 184.39 L181.38 183.53 L182.63 182.72 L183.92 181.95 L185.23 181.23 L186.56 180.56 L187.92 179.97 L189.32 179.46 L190.75 179.05 L192.20 178.73 L193.67 178.48 L195.15 178.27 L196.64 178.11 L198.13 177.97 L199.63 177.85 L201.13 177.75 L202.62 177.66 L204.12 177.58 L205.62 177.51 L207.12 177.44 L208.62 177.39 L210.12 177.35 L211.62 177.33 L213.11 177.31 L214.61 177.29 L216.11 177.28 L217.61 177.27 L219.11 177.27 L220.61 177.26 L222.11 177.25 L223.61 177.25 L225.11 177.24 L226.61 177.23 L228.11 177.23 L229.61 177.22 L231.11 177.22 L232.61 177.21 L234.11 177.21 L235.61 177.20 L237.11 177.20 L238.61 177.20 L240.11 177.19 L241.61 177.19 L243.11 177.19 L244.61 177.18 L246.11 177.18 L247.61 177.18 L249.11 177.17 L250.61 177.17 L252.11 177.17 L253.61 177.17 L255.11 177.16 L256.61 177.16 L258.11 177.16 L259.61 177.16 L261.11 177.16 L262.61 177.15 L264.11 177.15 L265.61 177.15 L267.11 177.15 L268.61 177.15 L270.11 177.14 L271.61 177.14 L273.11 177.14 L274.61 177.14 L276.11 177.14 L277.61 177.14 L279.11 177.13 L280.61 177.13 L282.11 177.13 L283.61 177.13 L285.11 177.13 L286.61 177.12 L288.11 177.12 L289.61 177.12 L291.11 177.12 L292.61 177.11 L294.11 177.11 L295.61 177.11 L297.11 177.11 L298.61 177.10 L300.11 177.10 L301.61 177.10 L303.11 177.09 L304.61 177.09 L306.11 177.09 L307.61 177.08 L309.11 177.08 L310.61 177.08 L312.11 177.07 L313.61 177.07 L315.11 177.06 L316.61 177.06 L318.11 177.06 L319.61 177.05 L321.11 177.05 L322.61 177.05 L324.11 177.04 L325.61 177.04 L327.11 177.03 L328.61 177.03 L330.11 177.03 L331.61 177.02 L333.11 177.02 L334.61 177.01 L336.11 177.01 L337.61 177.01 L339.11 177.00 L340.61 177.00 L342.11 176.99 L343.61 176.99 L345.11 176.99 L346.61 176.98 L348.11 176.98 L349.61 176.97 L351.11 176.97 L352.61 176.97 L354.11 176.96 L355.61 176.96 L357.11 176.96 L358.61 176.95 L360.11 176.95 L361.61 176.95 L363.11 176.94 L364.61 176.94 L366.11 176.94 L367.61 176.93 L369.11 176.93 L370.61 176.93 L372.11 176.93 L373.61 176.92 L375.11 176.92 L376.61 176.92 L378.11 176.92 L379.61 176.91 L381.11 176.91 L382.61 176.91 L384.11 176.91 L385.61 176.91 L387.11 176.91 L388.61 176.91 L390.11 176.90 L391.61 176.90 L393.11 176.90 L394.61 176.90 L396.11 176.90 L397.61 176.90 L399.11 176.90 L400.61 176.90 L402.11 176.90 L403.61 176.90 L405.11 176.90 L406.61 176.90 L408.11 176.90 L409.61 176.90 L411.11 176.90 L412.61 176.90 L414.11 176.90 L415.61 176.90 L417.11 176.90 L418.61 176.90 L420.11 176.90 L421.61 176.90 L423.11 176.90 L424.61 176.90 L426.11 176.90 L427.61 176.90 L429.11 176.90 L430.61 176.90 L432.11 176.90 L433.61 176.90 L435.11 176.90 L436.61 176.90 L438.11 176.90 L439.61 176.90 L441.11 176.90 L442.61 176.90 L444.11 176.90 L445.61 176.90 L447.11 176.90 L448.61 176.90 L450.11 176.90 L451.61 176.90 L453.11 176.90 L454.61 176.90 L456.11 176.90 L457.61 176.90 L459.11 176.90 L460.61 176.90 L462.11 176.90 L463.61 176.90 L465.11 176.90 L466.61 176.90 L468.11 176.90 L469.61 176.90 L471.11 176.90 L472.61 176.90 L474.11 176.90 L475.61 176.90 L477.11 176.90 L478.61 176.90 L480.11 176.90 L481.61 176.90 L483.11 176.90 L484.61 176.90 L486.11 176.90 L487.61 176.90 L489.11 176.90 L490.61 176.90 L492.11 176.90 L493.61 176.90 L495.11 176.90 L496.61 176.90 L498.11 176.90 L499.61 176.90 L501.11 176.90 L502.61 176.90 L504.11 176.90 L505.61 176.90 L507.11 176.90 L508.61 176.90 L510.11 176.90 L511.61 176.90 L513.11 176.90 L514.61 176.90 L516.11 176.90 L517.61 176.90 L519.11 176.90 L520.61 176.90 L522.11 176.90 L523.61 176.90 L525.11 176.90 L526.61 176.90 L528.11 176.90 L529.61 176.90 L531.11 176.90 L532.61 176.90 L534.11 176.90 L535.61 176.90 L537.11 176.90 L538.61 176.90 L540.11 176.90 L541.61 176.90 L543.11 176.90 L544.61 176.90 L546.11 176.90 L547.61 176.90 L549.11 176.90 L550.61 176.90 L552.11 176.90 L553.61 176.90 L555.11 176.90 L556.61 176.90 L558.11 176.90 L559.61 176.90 L561.11 176.90 L562.61 176.90 L564.11 176.90 L565.61 176.90 L567.11 176.90 L568.61 176.90 L570.11 176.90 L571.61 176.90 L573.11 176.90 L574.61 176.90 L576.11 176.90 L577.61 176.90 L579.11 176.90 L580.61 176.90 L582.11 176.90 L583.61 176.90 L585.11 176.90 L586.61 176.90 L588.11 176.90 L589.61 176.90 L591.11 176.90 L592.61 176.90 L594.11 176.90 L595.61 176.90 L597.11 176.90 L598.61 176.90 L600.11 176.90 L601.61 176.90 L603.11 176.90 L604.61 176.90 L606.11 176.90 L607.61 176.90 L609.11 176.90 L610.61 176.90 L612.11 176.90 L613.61 176.90 L615.11 176.90 L616.61 176.90 L618.11 176.90 L619.61 176.90 L621.11 176.90 L622.61 176.90 L624.11 176.90 L625.61 176.90 L627.11 176.90 L628.61 176.90 L630.11 176.90 L631.61 176.90 L633.11 176.90 L634.61 176.90 L636.11 176.90 L637.61 176.90 L639.11 176.90 L640.61 176.90 L642.11 176.90 L643.61 176.90 L645.11 176.90 L646.61 176.90 L648.11 176.90 L649.61 176.90 L651.11 176.90 L652.61 176.90 L654.11 176.90 L655.61 176.90 L657.11 176.90 L658.61 176.90 L660.11 176.90 L661.61 176.90 L663.11 176.90 L664.61 176.90 L666.11 176.90 L667.61 176.90 L669.11 176.90 L670.61 176.90 L672.11 176.90 L673.61 176.90 L675.11 176.90 L676.61 176.90 L678.11 176.90 L679.61 176.90 L681.11 176.90 L682.61 176.90 L684.11 176.90 L685.61 176.90 L687.11 176.90 L688.61 176.90 L690.11 176.90 L691.61 176.90 L693.11 176.90 L694.61 176.90 L696.11 176.90 L697.61 176.90 L699.11 176.90 L700.61 176.90 L702.11 176.90 L703.61 176.90 L705.11 176.90 L706.61 176.90 L708.11 176.90 L709.61 176.90 L711.11 176.90 L712.61 176.90 L714.11 176.90 L715.61 176.90 L717.11 176.90 L718.61 176.90 L720.11 176.90 L721.61 176.90 L723.11 176.90 L724.61 176.90 L726.11 176.90 L727.61 176.90 L729.11 176.90 L730.61 176.90 L732.11 176.90 L733.61 176.90 L735.11 176.90 L736.61 176.90 L738.11 176.90 L739.61 176.90 L741.11 176.90 L742.61 176.90 L744.11 176.90 L745.61 176.90 L747.11 176.90 L748.61 176.90 L750.11 176.90 L751.61 176.90 L753.11 176.90 L754.61 176.90 L756.11 176.90 L757.61 176.90 L759.11 176.90 L760.60 176.90 L762.07 176.90 L763.51 176.90 L764.92 176.90 L766.30 176.90" stroke="#0000ff" stroke-dasharray="17.8 7.3" stroke-dashoffset="0.00"/>
<path d="M94.30 273.50 L95.76 273.15 L97.21 272.77 L98.64 272.36 L100.07 271.90 L101.47 271.39 L102.86 270.83 L104.22 270.21 L105.55 269.53 L106.83 268.78 L108.07 267.95 L109.26 267.06 L110.40 266.09 L111.50 265.08 L112.55 264.02 L113.58 262.93 L114.57 261.81 L115.54 260.66 L116.47 259.49 L117.37 258.29 L118.23 257.07 L119.07 255.83 L119.88 254.57 L120.68 253.30 L121.45 252.01 L122.22 250.72 L122.97 249.42 L123.70 248.12 L124.42 246.80 L125.12 245.48 L125.81 244.14 L126.47 242.80 L127.11 241.44 L127.72 240.07 L128.32 238.70 L128.89 237.31 L129.44 235.92 L129.98 234.52 L130.51 233.11 L131.04 231.71 L131.57 230.31 L132.11 228.91 L132.65 227.51 L133.20 226.11 L133.75 224.72 L134.31 223.33 L134.87 221.94 L135.44 220.55 L136.00 219.16 L136.57 217.77 L137.15 216.38 L137.72 215.00 L138.30 213.61 L138.88 212.23 L139.47 210.85 L140.05 209.47 L140.64 208.09 L141.24 206.71 L141.84 205.34 L142.44 203.96 L143.04 202.59 L143.65 201.22 L144.25 199.84 L144.84 198.47 L145.42 197.08 L145.98 195.69 L146.52 194.30 L147.05 192.89 L147.55 191.48 L148.05 190.06 L148.54 188.65 L149.04 187.23 L149.55 185.82 L150.09 184.42 L150.65 183.03 L151.23 181.65 L151.84 180.28 L152.47 178.92 L153.12 177.57 L153.78 176.23 L154.46 174.89 L155.13 173.55 L155.82 172.21 L156.51 170.88 L157.20 169.55 L157.91 168.23 L158.62 166.91 L159.35 165.60 L160.09 164.29 L160.84 163.00 L161.61 161.71 L162.40 160.43 L163.20 159.16 L164.01 157.90 L164.85 156.66 L165.71 155.43 L166.59 154.22 L167.50 153.04 L168.45 151.87 L169.42 150.73 L170.42 149.61 L171.45 148.53 L172.52 147.49 L173.63 146.50 L174.81 145.58 L176.03 144.74 L177.31 143.98 L178.63 143.30 L179.99 142.69 L181.38 142.14 L182.80 141.65 L184.23 141.22 L185.67 140.83 L187.13 140.49 L188.60 140.19 L190.07 139.92 L191.55 139.68 L193.04 139.47 L194.52 139.28 L196.02 139.12 L197.51 138.99 L199.00 138.88 L200.50 138.79 L202.00 138.72 L203.50 138.65 L205.00 138.60 L206.49 138.55 L207.99 138.50 L209.49 138.46 L210.99 138.42 L212.49 138.39 L213.99 138.36 L215.49 138.34 L216.99 138.33 L218.49 138.32 L219.99 138.31 L221.49 138.31 L222.99 138.31 L224.49 138.32 L225.99 138.33 L227.49 138.34 L228.99 138.35 L230.49 138.37 L231.99 138.39 L233.49 138.40 L234.99 138.42 L236.49 138.44 L237.99 138.46 L239.49 138.48 L240.99 138.50 L242.49 138.52 L243.99 138.54 L245.49 138.56 L246.99 138.57 L248.49 138.58 L249.99 138.60 L251.49 138.61 L252.99 138.62 L254.49 138.63 L255.99 138.64 L257.49 138.65 L258.99 138.66 L260.49 138.67 L261.99 138.68 L263.49 138.69 L264.99 138.69 L266.49 138.70 L267.99 138.71 L269.49 138.72 L270.99 138.73 L272.49 138.73 L273.99 138.74 L275.49 138.75 L276.99 138.76 L278.49 138.76 L279.99 138.77 L281.49 138.78 L282.99 138.78 L284.49 138.79 L285.99 138.80 L287.49 138.80 L288.99 138.81 L290.49 138.82 L291.99 138.82 L293.49 138.83 L294.99 138.84 L296.49 138.84 L297.99 138.85 L299.49 138.86 L300.99 138.86 L302.49 138.87 L303.99 138.88 L305.49 138.88 L306.99 138.89 L308.49 138.90 L309.99 138.90 L311.49 138.91 L312.99 138.92 L314.49 138.93 L315.99 138.93 L317.49 138.94 L318.99 138.95 L320.49 138.96 L321.99 138.96 L323.49 138.97 L324.99 138.98 L326.49 138.99 L327.99 139.00 L329.49 139.01 L330.99 139.02 L332.49 139.02 L333.99 139.03 L335.49 139.04 L336.99 139.05 L338.49 139.06 L339.99 139.07 L341.49 139.08 L342.99 139.10 L344.49 139.11 L345.99 139.12 L347.49 139.13 L348.99 139.14 L350.49 139.15 L351.99 139.16 L353.49 139.17 L354.99 139.18 L356.49 139.19 L357.99 139.21 L359.49 139.22 L360.99 139.23 L362.49 139.24 L363.99 139.25 L365.49 139.26 L366.99 139.28 L368.49 139.29 L369.99 139.30 L371.49 139.31 L372.99 139.32 L374.49 139.33 L375.99 139.34 L377.49 139.35 L378.99 139.36 L380.49 139.38 L381.99 139.39 L383.49 139.40 L384.99 139.41 L386.49 139.42 L387.99 139.43 L389.49 139.44 L390.99 139.45 L392.49 139.46 L393.99 139.46 L395.49 139.47 L396.99 139.48 L398.49 139.49 L399.99 139.50 L401.49 139.51 L402.99 139.52 L404.49 139.52 L405.99 139.53 L407.49 139.54 L408.99 139.55 L410.49 139.55 L411.99 139.56 L413.49 139.57 L414.99 139.58 L416.49 139.58 L417.99 139.59 L419.49 139.60 L420.99 139.60 L422.49 139.61 L423.99 139.62 L425.49 139.62 L426.99 139.63 L428.49 139.64 L429.99 139.64 L431.49 139.65 L432.99 139.66 L434.49 139.66 L435.99 139.67 L437.49 139.67 L438.99 139.68 L440.49 139.69 L441.99 139.69 L443.49 139.70 L444.99 139.71 L446.49 139.71 L447.99 139.72 L449.49 139.72 L450.99 139.73 L452.49 139.74 L453.99 139.74 L455.49 139.75 L456.99 139.75 L458.49 139.76 L459.99 139.77 L461.49 139.77 L462.99 139.78 L464.49 139.79 L465.99 139.79 L467.49 139.80 L468.99 139.80 L470.49 139.81 L471.99 139.82 L473.49 139.82 L474.99 139.83 L476.49 139.84 L477.99 139.84 L479.49 139.85 L480.99 139.85 L482.49 139.86 L483.99 139.87 L485.49 139.87 L486.99 139.88 L488.49 139.89 L489.99 139.89 L491.49 139.90 L492.99 139.90 L494.49 139.91 L495.99 139.92 L497.49 139.92 L498.99 139.93 L500.49 139.94 L501.99 139.94 L503.49 139.95 L504.99 139.95 L506.49 139.96 L507.99 139.97 L509.49 139.97 L510.99 139.98 L512.49 139.98 L513.99 139.99 L515.49 140.00 L516.99 140.00 L518.49 140.01 L519.99 140.02 L521.49 140.02 L522.99 140.03 L524.49 140.03 L525.99 140.04 L527.49 140.05 L528.99 140.05 L530.49 140.06 L531.99 140.06 L533.49 140.07 L534.99 140.07 L536.49 140.08 L537.99 140.09 L539.49 140.09 L540.99 140.10 L542.49 140.10 L543.99 140.11 L545.49 140.12 L546.99 140.12 L548.49 140.13 L549.99 140.13 L551.49 140.14 L552.99 140.14 L554.49 140.15 L555.99 140.15 L557.49 140.16 L558.99 140.16 L560.49 140.17 L561.99 140.18 L563.49 140.18 L564.99 140.19 L566.49 140.19 L567.99 140.20 L569.49 140.20 L570.99 140.21 L572.49 140.21 L573.99 140.22 L575.49 140.22 L576.99 140.23 L578.49 140.23 L579.99 140.24 L581.49 140.24 L582.99 140.25 L584.49 140.25 L585.99 140.26 L587.49 140.26 L588.99 140.26 L590.49 140.27 L591.99 140.27 L593.49 140.28 L594.99 140.28 L596.49 140.29 L597.99 140.29 L599.49 140.29 L600.99 140.30 L602.49 140.30 L603.99 140.31 L605.49 140.31 L606.99 140.31 L608.49 140.32 L609.99 140.32 L611.49 140.33 L612.99 140.33 L614.49 140.33 L615.99 140.34 L617.49 140.34 L618.99 140.34 L620.49 140.35 L621.99 140.35 L623.49 140.35 L624.99 140.36 L626.49 140.36 L627.99 140.36 L629.49 140.37 L630.99 140.37 L632.49 140.37 L633.99 140.37 L635.49 140.38 L636.99 140.38 L638.49 140.38 L639.99 140.39 L641.49 140.39 L642.99 140.39 L644.49 140.39 L645.99 140.39 L647.49 140.40 L648.99 140.40 L650.49 140.40 L651.99 140.40 L653.49 140.40 L654.99 140.41 L656.49 140.41 L657.99 140.41 L659.49 140.41 L660.99 140.41 L662.49 140.42 L663.99 140.42 L665.49 140.42 L666.99 140.42 L668.49 140.42 L669.99 140.43 L671.49 140.43 L672.99 140.43 L674.49 140.43 L675.99 140.43 L677.49 140.43 L678.99 140.44 L680.49 140.44 L681.99 140.44 L683.49 140.44 L684.99 140.44 L686.49 140.45 L687.99 140.45 L689.49 140.45 L690.99 140.45 L692.49 140.45 L693.99 140.45 L695.49 140.46 L696.99 140.46 L698.49 140.46 L699.99 140.46 L701.49 140.46 L702.99 140.46 L704.49 140.47 L705.99 140.47 L707.49 140.47 L708.99 140.47 L710.49 140.47 L711.99 140.47 L713.49 140.47 L714.99 140.48 L716.49 140.48 L717.99 140.48 L719.49 140.48 L720.99 140.48 L722.49 140.48 L723.99 140.48 L725.49 140.48 L726.99 140.48 L728.49 140.49 L729.99 140.49 L731.49 140.49 L732.99 140.49 L734.49 140.49 L735.99 140.49 L737.49 140.49 L738.99 140.49 L740.49 140.49 L741.99 140.49 L743.49 140.49 L744.99 140.50 L746.49 140.50 L747.99 140.50 L749.49 140.50 L750.99 140.50 L752.49 140.50 L753.99 140.50 L755.49 140.50 L756.98 140.50 L758.48 140.50 L759.97 140.50 L761.43 140.50 L762.82 140.50 L764.10 140.50 L765.25 140.50 L766.30 140.50" stroke="#67004f" stroke-dasharray="3 9.2 15 9.2" stroke-dashoffset="0.00"/>
<path d="M94.30 207.00 L95.58 206.22 L96.86 205.44 L98.13 204.64 L99.38 203.81 L100.62 202.97 L101.83 202.09 L103.01 201.17 L104.16 200.21 L105.26 199.21 L106.32 198.15 L107.33 197.05 L108.28 195.90 L109.20 194.72 L110.08 193.51 L110.92 192.27 L111.74 191.01 L112.54 189.74 L113.30 188.46 L114.05 187.16 L114.76 185.84 L115.46 184.51 L116.14 183.17 L116.81 181.83 L117.47 180.49 L118.13 179.14 L118.78 177.79 L119.43 176.43 L120.07 175.08 L120.71 173.72 L121.35 172.37 L121.99 171.01 L122.62 169.65 L123.27 168.29 L123.91 166.94 L124.56 165.59 L125.20 164.23 L125.85 162.88 L126.49 161.52 L127.13 160.17 L127.76 158.81 L128.38 157.44 L129.00 156.07 L129.61 154.70 L130.21 153.33 L130.80 151.95 L131.40 150.57 L132.00 149.20 L132.59 147.82 L133.19 146.45 L133.80 145.07 L134.41 143.70 L135.02 142.33 L135.63 140.97 L136.25 139.60 L136.87 138.23 L137.50 136.87 L138.12 135.51 L138.75 134.15 L139.39 132.79 L140.02 131.43 L140.66 130.07 L141.31 128.72 L141.97 127.37 L142.64 126.03 L143.33 124.70 L144.03 123.37 L144.74 122.05 L145.47 120.74 L146.22 119.44 L146.98 118.15 L147.77 116.88 L148.59 115.62 L149.43 114.38 L150.30 113.16 L151.19 111.96 L152.11 110.77 L153.05 109.60 L154.01 108.45 L154.99 107.32 L155.99 106.20 L157.01 105.10 L158.04 104.02 L159.10 102.95 L160.17 101.90 L161.26 100.87 L162.37 99.87 L163.51 98.90 L164.68 97.98 L165.89 97.10 L167.14 96.28 L168.42 95.51 L169.73 94.79 L171.07 94.11 L172.42 93.48 L173.80 92.90 L175.20 92.38 L176.63 91.92 L178.06 91.50 L179.51 91.13 L180.97 90.79 L182.44 90.48 L183.91 90.19 L185.39 89.93 L186.87 89.69 L188.35 89.47 L189.84 89.28 L191.33 89.12 L192.82 88.99 L194.32 88.88 L195.81 88.80 L197.31 88.73 L198.81 88.67 L200.31 88.62 L201.81 88.58 L203.31 88.54 L204.81 88.50 L206.31 88.47 L207.81 88.45 L209.31 88.43 L210.81 88.42 L212.31 88.41 L213.81 88.41 L215.31 88.42 L216.81 88.43 L218.31 88.44 L219.81 88.46 L221.31 88.48 L222.81 88.50 L224.30 88.53 L225.80 88.55 L227.30 88.58 L228.80 88.61 L230.30 88.64 L231.80 88.67 L233.30 88.70 L234.80 88.73 L236.30 88.76 L237.80 88.79 L239.30 88.82 L240.80 88.84 L242.30 88.87 L243.80 88.89 L245.30 88.92 L246.80 88.94 L248.30 88.97 L249.80 89.00 L251.30 89.02 L252.80 89.05 L254.30 89.08 L255.80 89.11 L257.30 89.14 L258.80 89.16 L260.30 89.19 L261.80 89.22 L263.30 89.25 L264.80 89.28 L266.30 89.31 L267.80 89.34 L269.30 89.37 L270.80 89.40 L272.30 89.43 L273.80 89.46 L275.30 89.49 L276.80 89.52 L278.29 89.55 L279.79 89.59 L281.29 89.62 L282.79 89.65 L284.29 89.69 L285.79 89.72 L287.29 89.75 L288.79 89.79 L290.29 89.83 L291.79 89.86 L293.29 89.90 L294.79 89.94 L296.29 89.98 L297.79 90.03 L299.29 90.07 L300.79 90.11 L302.29 90.16 L303.79 90.20 L305.29 90.25 L306.79 90.29 L308.28 90.34 L309.78 90.39 L311.28 90.43 L312.78 90.48 L314.28 90.52 L315.78 90.57 L317.28 90.61 L318.78 90.65 L320.28 90.69 L321.78 90.73 L323.28 90.77 L324.78 90.81 L326.28 90.85 L327.78 90.88 L329.28 90.91 L330.78 90.95 L332.28 90.98 L333.78 91.01 L335.28 91.04 L336.77 91.07 L338.27 91.10 L339.77 91.13 L341.27 91.15 L342.77 91.18 L344.27 91.21 L345.77 91.23 L347.27 91.26 L348.77 91.29 L350.27 91.31 L351.77 91.34 L353.27 91.36 L354.77 91.39 L356.27 91.41 L357.77 91.44 L359.27 91.46 L360.77 91.49 L362.27 91.51 L363.77 91.53 L365.27 91.56 L366.77 91.58 L368.27 91.61 L369.77 91.63 L371.27 91.66 L372.77 91.68 L374.27 91.71 L375.77 91.73 L377.27 91.76 L378.77 91.78 L380.27 91.80 L381.77 91.83 L383.27 91.85 L384.77 91.88 L386.27 91.90 L387.77 91.92 L389.27 91.95 L390.77 91.97 L392.27 91.99 L393.77 92.02 L395.27 92.04 L396.77 92.06 L398.27 92.08 L399.77 92.10 L401.27 92.12 L402.77 92.14 L404.27 92.16 L405.77 92.18 L407.27 92.20 L408.77 92.22 L410.27 92.24 L411.77 92.26 L413.27 92.28 L414.77 92.29 L416.27 92.31 L417.76 92.33 L419.26 92.35 L420.76 92.36 L422.26 92.38 L423.76 92.40 L425.26 92.41 L426.76 92.43 L428.26 92.45 L429.76 92.46 L431.26 92.48 L432.76 92.49 L434.26 92.51 L435.76 92.52 L437.26 92.54 L438.76 92.55 L440.26 92.57 L441.76 92.58 L443.26 92.60 L444.76 92.61 L446.26 92.62 L447.76 92.64 L449.26 92.65 L450.76 92.67 L452.26 92.68 L453.76 92.69 L455.26 92.71 L456.76 92.72 L458.26 92.73 L459.76 92.75 L461.26 92.76 L462.76 92.77 L464.26 92.79 L465.76 92.80 L467.26 92.81 L468.76 92.82 L470.26 92.84 L471.76 92.85 L473.26 92.86 L474.76 92.88 L476.26 92.89 L477.76 92.90 L479.26 92.91 L480.76 92.92 L482.26 92.94 L483.76 92.95 L485.26 92.96 L486.76 92.97 L488.26 92.98 L489.76 93.00 L491.26 93.01 L492.76 93.02 L494.26 93.03 L495.76 93.04 L497.26 93.06 L498.76 93.07 L500.26 93.08 L501.76 93.09 L503.26 93.10 L504.76 93.11 L506.26 93.13 L507.76 93.14 L509.26 93.15 L510.76 93.16 L512.26 93.17 L513.76 93.18 L515.26 93.20 L516.76 93.21 L518.26 93.22 L519.76 93.23 L521.26 93.24 L522.76 93.25 L524.26 93.27 L525.76 93.28 L527.26 93.29 L528.76 93.30 L530.26 93.31 L531.76 93.33 L533.26 93.34 L534.76 93.35 L536.26 93.36 L537.76 93.38 L539.26 93.39 L540.76 93.40 L542.26 93.41 L543.76 93.42 L545.26 93.44 L546.76 93.45 L548.26 93.46 L549.76 93.47 L551.26 93.49 L552.76 93.50 L554.26 93.51 L555.76 93.52 L557.26 93.54 L558.76 93.55 L560.26 93.56 L561.76 93.57 L563.26 93.58 L564.76 93.59 L566.26 93.60 L567.76 93.61 L569.26 93.63 L570.76 93.64 L572.26 93.65 L573.76 93.66 L575.26 93.67 L576.76 93.68 L578.26 93.68 L579.76 93.69 L581.26 93.70 L582.76 93.71 L584.26 93.72 L585.76 93.73 L587.26 93.73 L588.76 93.74 L590.26 93.75 L591.76 93.76 L593.26 93.76 L594.76 93.77 L596.26 93.78 L597.76 93.79 L599.26 93.79 L600.76 93.80 L602.26 93.81 L603.76 93.81 L605.26 93.82 L606.76 93.83 L608.26 93.83 L609.76 93.84 L611.26 93.85 L612.76 93.85 L614.26 93.86 L615.76 93.86 L617.26 93.87 L618.76 93.88 L620.26 93.88 L621.76 93.89 L623.26 93.89 L624.76 93.90 L626.26 93.91 L627.76 93.91 L629.26 93.92 L630.76 93.92 L632.26 93.93 L633.76 93.93 L635.26 93.94 L636.76 93.95 L638.26 93.95 L639.76 93.96 L641.26 93.96 L642.76 93.97 L644.26 93.98 L645.76 93.98 L647.26 93.99 L648.76 94.00 L650.26 94.00 L651.76 94.01 L653.26 94.01 L654.76 94.02 L656.26 94.03 L657.76 94.04 L659.26 94.04 L660.76 94.05 L662.26 94.06 L663.76 94.07 L665.26 94.08 L666.76 94.08 L668.26 94.09 L669.76 94.10 L671.26 94.11 L672.76 94.11 L674.26 94.12 L675.76 94.13 L677.26 94.14 L678.76 94.14 L680.26 94.15 L681.76 94.16 L683.26 94.16 L684.76 94.17 L686.26 94.17 L687.76 94.18 L689.26 94.18 L690.76 94.19 L692.26 94.19 L693.76 94.19 L695.26 94.20 L696.76 94.20 L698.26 94.20 L699.76 94.20 L701.26 94.20 L702.76 94.20 L704.26 94.20 L705.76 94.20 L707.26 94.20 L708.76 94.20 L710.26 94.20 L711.76 94.20 L713.26 94.20 L714.76 94.20 L716.26 94.20 L717.76 94.20 L719.26 94.20 L720.76 94.20 L722.26 94.20 L723.76 94.20 L725.26 94.20 L726.76 94.20 L728.26 94.20 L729.76 94.20 L731.26 94.20 L732.76 94.20 L734.26 94.20 L735.76 94.20 L737.26 94.20 L738.76 94.20 L740.26 94.20 L741.76 94.20 L743.26 94.20 L744.76 94.20 L746.26 94.20 L747.76 94.20 L749.26 94.20 L750.76 94.20 L752.26 94.20 L753.76 94.20 L755.26 94.20 L756.76 94.20 L758.25 94.20 L759.74 94.20 L761.21 94.20 L762.62 94.20 L763.94 94.20 L765.16 94.20 L766.30 94.20" stroke="#bc8f8f" stroke-dasharray="3 9 15 9 3 9" stroke-dashoffset="-3.30"/>
</g>
<rect x="94.30" y="12.00" width="672.00" height="470.50" fill="none" stroke="#000" stroke-linejoin="round" stroke-width="2.50"/>
<path d="M150.30 482.50V475.80M150.30 12.00V18.70M206.30 482.50V469.10M206.30 12.00V25.40M262.30 482.50V475.80M262.30 12.00V18.70M318.30 482.50V469.10M318.30 12.00V25.40M374.30 482.50V475.80M374.30 12.00V18.70M430.30 482.50V469.10M430.30 12.00V25.40M486.30 482.50V475.80M486.30 12.00V18.70M542.30 482.50V469.10M542.30 12.00V25.40M598.30 482.50V475.80M598.30 12.00V18.70M654.30 482.50V469.10M654.30 12.00V25.40M710.30 482.50V475.80M710.30 12.00V18.70M94.30 435.45H101.00M766.30 435.45H759.60M94.30 388.40H107.70M766.30 388.40H752.90M94.30 341.35H101.00M766.30 341.35H759.60M94.30 294.30H107.70M766.30 294.30H752.90M94.30 247.25H101.00M766.30 247.25H759.60M94.30 200.20H107.70M766.30 200.20H752.90M94.30 153.15H101.00M766.30 153.15H759.60M94.30 106.10H107.70M766.30 106.10H752.90M94.30 59.05H101.00M766.30 59.05H759.60" stroke="#000" stroke-width="2.50" fill="none"/>
<text transform="translate(73.39,492.70) scale(1,1.140) rotate(0.001)" font-family='"Liberation Sans", sans-serif' font-size="27.30">0</text>
<text transform="translate(54.45,398.60) scale(1,1.140) rotate(0.001)" font-family='"Liberation Sans", sans-serif' font-size="27.30">0</text><text transform="translate(69.96,398.60) scale(1,1.140) rotate(0.001)" font-family='"Liberation Sans", sans-serif' font-size="27.30">.</text><path transform="translate(87.75,398.60)" d="M0 -20.2V0H-2.45V-14.8L-7.1 -14.5V-16.4C-4.7 -16.6 -2.7 -17.8 -1.35 -20.2Z"/>
<text transform="translate(50.29,304.50) scale(1,1.140) rotate(0.001)" font-family='"Liberation Sans", sans-serif' font-size="27.30">0</text><text transform="translate(65.80,304.50) scale(1,1.140) rotate(0.001)" font-family='"Liberation Sans", sans-serif' font-size="27.30">.</text><text transform="translate(73.40,304.50) scale(1,1.140) rotate(0.001)" font-family='"Liberation Sans", sans-serif' font-size="27.30">2</text>
<text transform="translate(49.87,210.40) scale(1,1.140) rotate(0.001)" font-family='"Liberation Sans", sans-serif' font-size="27.30">0</text><text transform="translate(65.38,210.40) scale(1,1.140) rotate(0.001)" font-family='"Liberation Sans", sans-serif' font-size="27.30">.</text><text transform="translate(73.38,210.40) scale(1,1.140) rotate(0.001)" font-family='"Liberation Sans", sans-serif' font-size="27.30">3</text>
<text transform="translate(49.84,116.30) scale(1,1.140) rotate(0.001)" font-family='"Liberation Sans", sans-serif' font-size="27.30">0</text><text transform="translate(65.36,116.30) scale(1,1.140) rotate(0.001)" font-family='"Liberation Sans", sans-serif' font-size="27.30">.</text><text transform="translate(73.25,116.30) scale(1,1.140) rotate(0.001)" font-family='"Liberation Sans", sans-serif' font-size="27.30">4</text>
<text transform="translate(50.09,22.20) scale(1,1.140) rotate(0.001)" font-family='"Liberation Sans", sans-serif' font-size="27.30">0</text><text transform="translate(65.61,22.20) scale(1,1.140) rotate(0.001)" font-family='"Liberation Sans", sans-serif' font-size="27.30">.</text><text transform="translate(73.41,22.20) scale(1,1.140) rotate(0.001)" font-family='"Liberation Sans", sans-serif' font-size="27.30">5</text>
<text transform="translate(87.11,509.50) scale(1,1.140) rotate(0.001)" font-family='"Liberation Sans", sans-serif' font-size="27.30">0</text>
<text transform="translate(198.79,509.50) scale(1,1.140) rotate(0.001)" font-family='"Liberation Sans", sans-serif' font-size="27.30">2</text>
<text transform="translate(311.08,509.50) scale(1,1.140) rotate(0.001)" font-family='"Liberation Sans", sans-serif' font-size="27.30">4</text>
<text transform="translate(423.02,509.50) scale(1,1.140) rotate(0.001)" font-family='"Liberation Sans", sans-serif' font-size="27.30">6</text>
<text transform="translate(535.09,509.50) scale(1,1.140) rotate(0.001)" font-family='"Liberation Sans", sans-serif' font-size="27.30">8</text>
<path transform="translate(649.16,509.50)" d="M0 -20.2V0H-2.45V-14.8L-7.1 -14.5V-16.4C-4.7 -16.6 -2.7 -17.8 -1.35 -20.2Z"/><text transform="translate(654.92,509.50) scale(1,1.140) rotate(0.001)" font-family='"Liberation Sans", sans-serif' font-size="27.30">0</text>
<path transform="translate(761.16,509.50)" d="M0 -20.2V0H-2.45V-14.8L-7.1 -14.5V-16.4C-4.7 -16.6 -2.7 -17.8 -1.35 -20.2Z"/><text transform="translate(766.60,509.50) scale(1,1.140) rotate(0.001)" font-family='"Liberation Sans", sans-serif' font-size="27.30">2</text>
<text x="431.3" y="544.6" font-family='"Liberation Sans", sans-serif' font-size="39.5" letter-spacing="-1" text-anchor="middle">q (MeV)</text>
<g><path fill-rule="evenodd" d="M231.65 320.3 L247.9 358.7 L213.7 358.7 Z M229.6 329.6 L217.5 355.8 L240.7 355.8 Z"/><path d="M247.1 332.1 L254.7 329.9 L263.6 352.3 L269.2 340.3 C269.8 338.8 269.9 337.8 269.4 336.7 C268.5 335 268.3 333.6 268.9 331.8 C269.6 330.3 270.6 329.7 271.5 329.7 C273.6 329.7 275 331.1 275 333.2 C275 335.2 273.9 337.4 272.5 340.3 L262.9 359.9 L260.8 359.9 L251.9 336.2 C251.3 334.3 250.6 333.2 247.1 332.1 Z"/><path d="M280.9 352.6 H284.2 V378.3 H298.8 V381.6 H280.9 Z"/></g>
<g transform="translate(27.7,275.5) rotate(-90) scale(0.6700) translate(-213.7,-358.7)"><path fill-rule="evenodd" d="M231.65 320.3 L247.9 358.7 L213.7 358.7 Z M229.6 329.6 L217.5 355.8 L240.7 355.8 Z"/><path d="M247.1 332.1 L254.7 329.9 L263.6 352.3 L269.2 340.3 C269.8 338.8 269.9 337.8 269.4 336.7 C268.5 335 268.3 333.6 268.9 331.8 C269.6 330.3 270.6 329.7 271.5 329.7 C273.6 329.7 275 331.1 275 333.2 C275 335.2 273.9 337.4 272.5 340.3 L262.9 359.9 L260.8 359.9 L251.9 336.2 C251.3 334.3 250.6 333.2 247.1 332.1 Z"/><path d="M280.9 352.6 H284.2 V378.3 H298.8 V381.6 H280.9 Z"/></g>
<path d="M372.7 290.50H426.6" stroke="#000000" stroke-width="3.0"/>
<text transform="translate(439.8,301.20) scale(1,1.04)" font-family='"Liberation Sans", sans-serif' font-size="28.15">linear</text>
<path d="M372.7 318.30H426.6" stroke="#ff0000" stroke-width="3.0" stroke-dasharray="3 9"/>
<text transform="translate(439.8,328.90) scale(1,1.04)" font-family='"Liberation Sans", sans-serif' font-size="28.15">linear + Coulomb</text>
<path d="M372.7 349.20H426.6" stroke="#00ff00" stroke-width="3.0" stroke-dasharray="21.5 8.7"/>
<text transform="translate(439.8,356.50) scale(1,1.04)" font-family='"Liberation Sans", sans-serif' font-size="28.15">linear + running</text>
<path d="M372.7 379.80H426.6" stroke="#0000ff" stroke-width="3.0" stroke-dasharray="17.8 7.3"/>
<text transform="translate(439.8,390.10) scale(1,1.04)" font-family='"Liberation Sans", sans-serif' font-size="28.15">linear PWIA</text>
<path d="M372.7 407.40H426.6" stroke="#67004f" stroke-width="3.0" stroke-dasharray="3 9.2 15 9.2"/>
<text transform="translate(439.8,418.40) scale(1,1.04)" font-family='"Liberation Sans", sans-serif' font-size="28.15">linear + Coulomb PWIA</text>
<path d="M372.7 438.40H426.6" stroke="#bc8f8f" stroke-width="3.0" stroke-dasharray="3 9 15 9 3 9"/>
<text transform="translate(439.8,446.00) scale(1,1.04)" font-family='"Liberation Sans", sans-serif' font-size="28.15">linear + running PWIA</text>
</svg>
</body></html>
